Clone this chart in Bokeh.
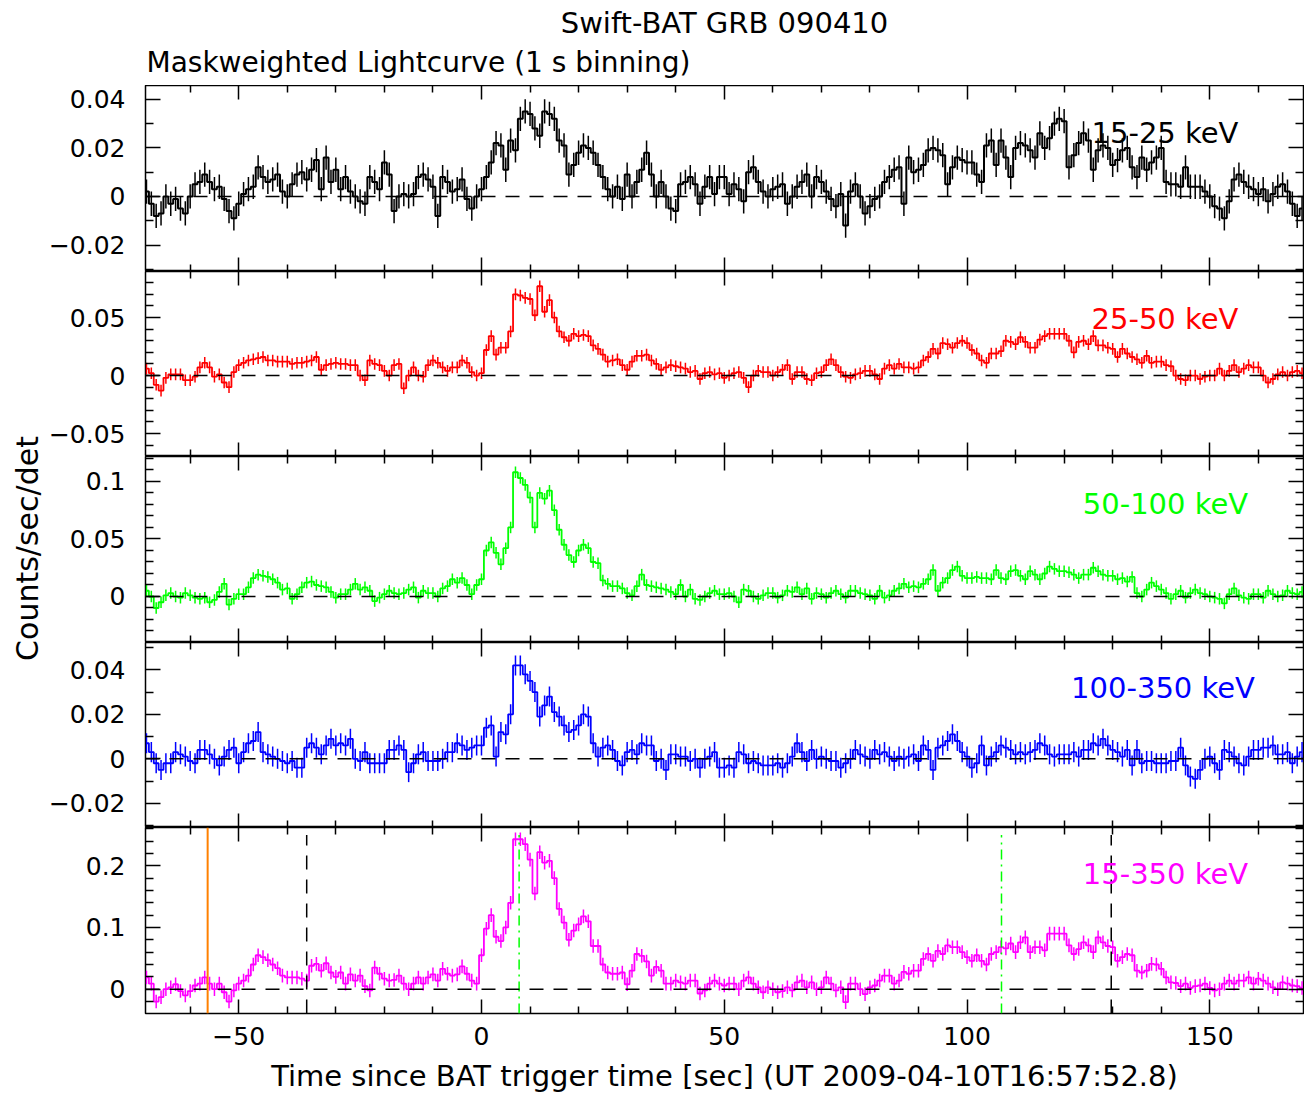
import numpy as np
from bokeh.plotting import figure
from bokeh.models import Range1d, LinearAxis, FixedTicker, Span, Label, ColumnDataSource
from bokeh.layouts import column, row
from bokeh.embed import file_html
from bokeh.resources import INLINE

FONT = "DejaVu Sans"

# ---------------- data (1 s bins, first bin centred at t = -69 s) ----------------
t_first = -69
bin_size = 1.0

# mask-weighted rates, in units of 1e-3 counts/sec/det
rate_15_25 = [
    2, -3, -8, -7, 0, -3, -1, -5, -7, 0,
    5, 6, 9, 6, 3, 4, -1, -6, -9, -3,
    1, 3, 4, 12, 8, 6, 7, 9, 2, 0,
    5, 9, 10, 7, 11, 15, 3, 16, 6, 11,
    3, 8, 2, 0, -2, -3, 8, 6, 3, 14,
    9, -6, 0, 1, 0, 1, 8, 9, 7, 4,
    -8, 8, 6, 2, 3, 7, -1, -5, 0, 3,
    8, 14, 22, 21, 11, 23, 19, 32, 35, 34,
    28, 25, 35, 34, 32, 23, 21, 9, 13, 18,
    21, 20, 18, 13, 8, 3, 0, 4, -1, 9,
    0, 6, 11, 18, 9, 0, 6, 0, -5, -6,
    5, 6, 8, 5, -3, 4, 8, 1, 8, 8,
    1, 5, 3, -2, 10, 12, 6, 2, 0, 3,
    4, 5, -3, 0, 4, 6, 9, 0, 8, 6,
    2, -1, -4, 1, -12, 2, 5, 0, -7, -4,
    -1, 0, 6, 8, 11, 12, -3, 16, 10, 11,
    13, 19, 20, 19, 17, 5, 12, 16, 15, 14,
    14, 9, 6, 21, 23, 13, 23, 16, 8, 20,
    22, 21, 19, 16, 26, 20, 24, 30, 32, 31,
    12, 17, 22, 26, 23, 11, 19, 21, 20, 13,
    15, 19, 20, 12, 8, 16, 11, 14, 16, 20,
    6, 5, 5, 4, 12, 4, 4, 4, 2, 0,
    -4, -5, -9, -2, 7, 9, 6, 4, 3, 1,
    3, -2, 1, 4, 5, 2, -3, -8, -5,
]
rate_25_50 = [
    6, 2, -8, -13, -2, 1, 1, 1, -4, -4,
    -1, 7, 11, 7, -1, 1, -6, -10, 3, 9,
    11, 13, 14, 15, 16, 13, 13, 12, 12, 12,
    10, 11, 11, 12, 13, 16, 5, 9, 10, 11,
    10, 10, 9, 9, 0, -4, 13, 10, 9, 4,
    0, 9, 10, -11, 0, 7, 0, -1, 9, 13,
    11, 7, 4, 7, 7, 13, 11, 3, 0, 2,
    22, 34, 18, 24, 24, 38, 70, 69, 67, 66,
    52, 77, 55, 65, 50, 38, 33, 30, 36, 34,
    35, 34, 26, 23, 18, 12, 13, 14, 9, 5,
    12, 17, 17, 18, 13, 10, 5, 7, 9, 8,
    7, 6, 3, 4, -3, 2, 3, 1, 2, -2,
    0, 2, 3, -2, -10, 0, 4, 3, 3, 0,
    3, 5, 9, -3, 3, 3, -3, -4, 2, 3,
    9, 14, 9, 3, -1, -2, 1, 2, 4, 4,
    1, -3, 6, 9, 6, 10, 7, 7, 6, 7,
    13, 16, 23, 19, 28, 27, 24, 28, 30, 28,
    22, 19, 13, 11, 19, 19, 21, 30, 29, 27,
    33, 29, 24, 24, 31, 34, 36, 36, 36, 36,
    30, 20, 29, 30, 27, 34, 26, 26, 24, 23,
    16, 23, 19, 16, 14, 11, 17, 11, 12, 12,
    9, 8, 0, -3, -4, 0, 0, -3, -1, 0,
    0, 6, 0, 4, 9, 3, 6, 9, 7, 7,
    0, -6, -3, 1, 3, 0, 3, 4, 2,
]
rate_50_100 = [
    5, 0, -10, -5, 1, 3, 0, -1, 3, 1,
    -1, -2, -1, -5, -3, 4, 11, -7, -2, 2,
    2, 8, 16, 19, 18, 17, 15, 12, 6, 7,
    -2, 2, 8, 12, 13, 10, 9, 8, 4, -1,
    2, 2, 6, 11, 6, 8, 5, -4, -1, 2,
    5, 3, 2, 3, 6, 8, -1, 5, 3, 3,
    0, 7, 9, 15, 12, 16, 10, 2, 10, 15,
    40, 47, 38, 28, 42, 60, 108, 103, 97, 86,
    60, 90, 85, 92, 75, 58, 45, 36, 30, 40,
    45, 42, 30, 29, 14, 11, 9, 9, 7, 3,
    1, 9, 19, 10, 9, 8, 7, 6, 4, 2,
    10, 0, 6, -2, -3, 0, 3, 5, 2, 2,
    3, 0, -5, 6, 5, 0, -2, 1, 3, 3,
    -1, 1, 5, 4, 8, 2, 7, -2, 3, 2,
    -1, 3, 5, 2, -1, 5, 5, 3, 2, 1,
    -2, 5, -1, 1, 5, 7, 11, 8, 9, 8,
    11, 15, 23, 5, 12, 16, 23, 26, 18, 16,
    16, 17, 16, 16, 15, 23, 16, 15, 22, 23,
    18, 15, 22, 19, 15, 20, 26, 24, 22, 22,
    21, 19, 16, 19, 19, 25, 22, 19, 18, 18,
    15, 16, 13, 17, 3, 0, 6, 12, 9, 6,
    3, -2, 2, 5, -1, 3, 6, 3, 2, 0,
    -1, -2, -6, 2, 7, 1, -1, -2, 2, 2,
    -1, 5, 2, 0, 1, 5, 3, 2, 4,
]
rate_100_350 = [
    7, 3, -2, -5, -2, -2, 3, 2, 1, -1,
    -2, 4, 4, 2, 0, -3, 1, 4, 5, -2,
    3, 7, 8, 12, 3, 2, 1, 0, -1, -2,
    -1, -4, -4, 5, 7, 5, 2, 6, 9, 6,
    7, 6, 9, 0, -1, 3, -2, -2, -2, -2,
    4, 4, 6, 4, -6, -2, 2, 3, -1, -1,
    -1, 0, 3, 3, 7, 6, 4, 5, 6, 6,
    14, 15, 1, 12, 11, 20, 42, 42, 38, 35,
    30, 19, 24, 28, 21, 19, 15, 12, 13, 15,
    20, 19, 7, 1, 5, 6, 4, -1, -3, 3,
    4, 2, 7, 6, 6, -1, 0, -5, 2, 2,
    1, 1, -1, 0, -4, 0, 1, 3, -4, -4,
    -3, -4, 3, 2, -2, -1, -2, -3, -3, -3,
    -2, -4, -2, 1, 7, 3, -1, 4, 0, 1,
    0, -1, -1, -4, -2, 0, 4, 2, 1, 0,
    4, 2, 3, 1, -1, 1, 0, 1, 2, -1,
    6, 4, -5, 5, 6, 8, 11, 8, 3, 1,
    -4, -2, 6, -3, 1, 3, 6, 5, 4, 2,
    3, 2, 3, 4, 7, 6, 2, 1, 2, 2,
    2, 3, 1, 4, 4, 7, 6, 9, 6, 4,
    3, 1, 4, -3, 4, -2, -1, -1, -2, -2,
    -2, -1, -1, 5, -3, -8, -9, -5, 0, 1,
    -2, -5, 4, 3, 1, -2, -3, 1, 4, 4,
    5, 5, 6, 2, 2, 3, -2, 1, 3,
]
rate_15_350 = [
    19, 9, -20, -13, 0, 3, 8, -3, -10, -3,
    6, 9, 19, 9, 0, 9, -5, -20, -2, 9,
    14, 22, 40, 55, 52, 47, 40, 34, 22, 19,
    19, 19, 17, 14, 38, 41, 30, 42, 27, 20,
    27, 9, 24, 14, 22, 5, -2, 35, 25, 17,
    14, 15, 22, 9, 0, 9, 19, 9, 19, 24,
    14, 33, 25, 22, 24, 37, 25, 14, 9, 55,
    98, 120, 85, 78, 100, 140, 243, 243, 235, 210,
    155, 222, 205, 208, 180, 130, 108, 80, 95, 105,
    118, 110, 70, 70, 40, 27, 25, 25, 27, 8,
    30, 57, 54, 45, 22, 36, 30, 9, 9, 14,
    11, 9, 14, 14, -7, -2, 9, 14, 9, 6,
    9, 9, 0, 14, 19, 9, 3, -5, 3, 0,
    -5, -3, 3, -2, 11, 14, 3, 11, 0, 3,
    19, 9, -2, 3, -21, 9, 9, 0, -8, 3,
    6, 14, 22, 22, 9, 14, 28, 25, 30, 30,
    49, 57, 46, 62, 57, 71, 68, 68, 60, 52,
    46, 55, 46, 40, 57, 60, 68, 66, 74, 60,
    76, 84, 60, 68, 68, 63, 90, 90, 90, 90,
    71, 57, 65, 76, 71, 60, 84, 76, 70, 68,
    46, 52, 57, 55, 30, 27, 30, 41, 40, 33,
    19, 11, 10, 5, 9, 2, 5, 6, 9, 2,
    -2, 0, 9, 14, 9, 14, 14, 19, 9, 17,
    14, 9, 3, 0, 11, 9, 6, 5, 2,
]
# typical 1-sigma error per bin (counts/sec/det)
err_15_25 = 0.005
err_25_50 = 0.005
err_50_100 = 0.005
err_100_350 = 0.0045
err_15_350 = 0.011

band_names = ["15-25 keV", "25-50 keV", "50-100 keV", "100-350 keV", "15-350 keV"]
band_colors = ["#000000", "#ff0000", "#00ff00", "#0000ff", "#ff00ff"]

# times of the marker lines in the 15-350 keV panel (s)
t_orange = [-56.4]
t_dashed = [-36.0, 129.7]
t_dashdot = [7.75, 107.1]

# tick values
x_major = [-50, 0, 50, 100, 150]
x_minor = [-60, -40, -30, -20, -10, 10, 20, 30, 40, 60, 70, 80, 90, 110, 120, 130, 140, 160]
y_major = [[-0.02, 0, 0.02, 0.04], [-0.05, 0, 0.05], [0, 0.05, 0.1], [-0.02, 0, 0.02, 0.04], [0, 0.1, 0.2]]
y_minor = [
    [-0.03, -0.01, 0.01, 0.03],
    [-0.06, -0.04, -0.03, -0.02, -0.01, 0.01, 0.02, 0.03, 0.04, 0.06, 0.07, 0.08],
    [-0.03, -0.02, -0.01, 0.01, 0.02, 0.03, 0.04, 0.06, 0.07, 0.08, 0.09, 0.11, 0.12],
    [-0.03, -0.01, 0.01, 0.03, 0.05],
    [-0.02, 0.02, 0.04, 0.06, 0.08, 0.12, 0.14, 0.16, 0.18, 0.22, 0.24, 0.26],
]

# ---------------- layout settings ----------------
x_limits = (-69.2, 169.3)
y_limits = [(-0.0309, 0.0457), (-0.0698, 0.0897), (-0.040, 0.1217), (-0.0309, 0.0523), (-0.0394, 0.262)]
frame_heights = [186, 185, 186, 185, 186]
label_pos = [(155.9, 0.0262), (155.9, 0.0491), (157.9, 0.0806), (159.3, 0.0317), (157.9, 0.186)]
LEFT_BORDER = 101
FRAME_W = 1158
YLAB_W = 44
PANEL_W = LEFT_BORDER + FRAME_W + 1
BOTTOM_BORDER = 82
TITLE_H = 85
TICK_FS = "25px"
TEXT_FS = "29px"


def fmt(v):
    s = f"{v:g}"
    return s.replace("-", "\u2212")


def style_axis(ax, major, minor, tin, tmin, labelled):
    ax.ticker = FixedTicker(ticks=major, minor_ticks=minor)
    ax.major_tick_in = tin
    ax.major_tick_out = 0
    ax.minor_tick_in = tmin
    ax.minor_tick_out = 0
    ax.major_tick_line_width = 1.5
    ax.minor_tick_line_width = 1.5
    ax.major_tick_line_color = "black"
    ax.minor_tick_line_color = "black"
    ax.axis_line_color = None
    if labelled:
        ax.major_label_overrides = {v: fmt(v) for v in major}
        ax.major_label_text_font = FONT
        ax.major_label_text_font_size = TICK_FS
        ax.major_label_text_color = "black"
    else:
        ax.major_label_text_font_size = "0px"
        ax.major_label_text_color = None
        ax.major_label_standoff = 0


series = [rate_15_25, rate_25_50, rate_50_100, rate_100_350, rate_15_350]
errs = [err_15_25, err_25_50, err_50_100, err_100_350, err_15_350]
time = t_first + bin_size * np.arange(len(rate_15_25))

panels = []
for i in range(5):
    last = (i == 4)
    bb = BOTTOM_BORDER if last else 0
    p = figure(width=PANEL_W, height=frame_heights[i] + bb,
               x_range=Range1d(*x_limits), y_range=Range1d(*y_limits[i]),
               x_axis_location=None, y_axis_location=None,
               output_backend="svg", toolbar_location=None,
               min_border_left=LEFT_BORDER, min_border_right=1,
               min_border_top=0, min_border_bottom=bb)
    p.grid.visible = False
    p.outline_line_color = "black"
    p.outline_line_width = 1.5
    p.background_fill_color = "white"
    p.border_fill_color = "white"

    left = LinearAxis()
    style_axis(left, y_major[i], y_minor[i], 15, 8, True)
    left.major_label_standoff = 20
    p.add_layout(left, "left")
    right = LinearAxis()
    style_axis(right, y_major[i], y_minor[i], 15, 8, False)
    p.add_layout(right, "right")
    top = LinearAxis()
    style_axis(top, x_major, x_minor, 14, 7, False)
    p.add_layout(top, "above")
    bottom = LinearAxis()
    style_axis(bottom, x_major, x_minor, 14, 7, last)
    if last:
        bottom.major_label_standoff = 13
        bottom.axis_label = "Time since BAT trigger time [sec] (UT 2009-04-10T16:57:52.8)"
        bottom.axis_label_text_font = FONT
        bottom.axis_label_text_font_size = TEXT_FS
        bottom.axis_label_text_font_style = "normal"
        bottom.axis_label_text_color = "black"
        bottom.axis_label_standoff = 11
    p.add_layout(bottom, "below")

    y = np.array(series[i], dtype=float) * 1e-3
    src = ColumnDataSource(dict(t=time, y=y, lo=y - errs[i], hi=y + errs[i]))
    col = band_colors[i]
    p.segment(x0="t", y0="lo", x1="t", y1="hi", source=src, line_color=col, line_width=1.5)
    p.step(x="t", y="y", source=src, mode="center", line_color=col, line_width=2 if i == 0 else 1.8)

    p.add_layout(Span(location=0, dimension="width", line_color="black",
                      line_dash="14 10", line_width=1.5))
    lx, ly = label_pos[i]
    p.add_layout(Label(x=lx, y=ly, text=band_names[i], text_align="right",
                       text_baseline="middle", text_color=col,
                       text_font=FONT, text_font_size=TEXT_FS))

    if last:
        y0 = y_limits[i][0]
        top_y = 0.25
        for tt in t_orange:
            p.add_layout(Span(location=tt, dimension="height", line_color="#ff8000", line_width=2))
        p.segment(x0=t_dashed, y0=[y0] * len(t_dashed), x1=t_dashed, y1=[top_y] * len(t_dashed),
                  line_color="black", line_dash="14 10", line_width=1.5)
        p.segment(x0=t_dashdot, y0=[y0] * len(t_dashdot), x1=t_dashdot, y1=[top_y] * len(t_dashdot),
                  line_color="#00ff00", line_dash="10 5 2 5", line_width=1.5)
    panels.append(p)

# title area
TOTAL_W = YLAB_W + PANEL_W
tf = figure(width=TOTAL_W, height=TITLE_H, x_range=Range1d(0, TOTAL_W), y_range=Range1d(0, TITLE_H),
            x_axis_location=None, y_axis_location=None, output_backend="svg",
            toolbar_location=None, min_border=0)
tf.grid.visible = False
tf.outline_line_color = None
tf.add_layout(Label(x=724, y=TITLE_H - 22, text="Swift-BAT GRB 090410", text_align="center",
                    text_baseline="middle", text_font=FONT, text_font_size=TEXT_FS, text_color="black"))
tf.add_layout(Label(x=146, y=TITLE_H - 62, text="Maskweighted Lightcurve (1 s binning)", text_align="left",
                    text_baseline="middle", text_font=FONT, text_font_size="28px", text_color="black"))

# y-axis label column
YLAB_H = sum(frame_heights) + BOTTOM_BORDER
yf = figure(width=YLAB_W, height=YLAB_H, x_range=Range1d(0, YLAB_W), y_range=Range1d(0, YLAB_H),
            x_axis_location=None, y_axis_location=None, output_backend="svg",
            toolbar_location=None, min_border=0)
yf.grid.visible = False
yf.outline_line_color = None
yf.add_layout(Label(x=27, y=YLAB_H - (548 - TITLE_H), text="Counts/sec/det", angle=np.pi / 2,
                    text_align="center", text_baseline="middle", text_font=FONT,
                    text_font_size="30px", text_color="black"))

layout = column(tf, row(yf, column(*panels)))
open("out.html", "w").write(file_html(layout, INLINE))
